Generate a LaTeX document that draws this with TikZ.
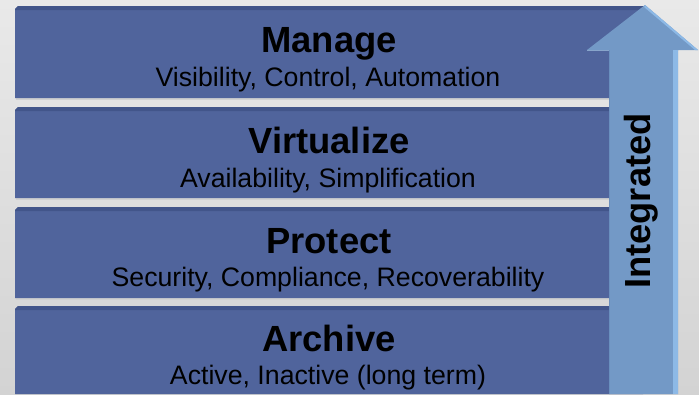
\documentclass[tikz,border=0pt]{standalone}
\usepackage{fontspec}
\setmainfont{Liberation Sans}
\definecolor{bgtop}{HTML}{E9E9E9}
\definecolor{bgbot}{HTML}{D3D3D3}
\definecolor{barc}{HTML}{50649C}
\definecolor{bartop}{HTML}{42558A}
\definecolor{arrc}{HTML}{7399C6}
\definecolor{arrlight}{HTML}{8DB9E6}
\definecolor{arrdark}{HTML}{6A8FBE}
\tikzset{
  titletext/.style={anchor=base, inner sep=0pt, font=\fontsize{36.4}{42}\selectfont\bfseries},
  subtext/.style={anchor=base, inner sep=0pt, font=\fontsize{26.7}{30}\selectfont},
  arrtext/.style={anchor=base, inner sep=0pt, rotate=90, font=\fontsize{36.3}{42}\selectfont\bfseries}
}
\begin{document}
\begin{tikzpicture}[x=1pt,y=-1pt]
\useasboundingbox (0,0) rectangle (699,394);
\shade[top color=bgtop, bottom color=bgbot] (0,0) rectangle (699,394);
% bars
\foreach \t/\b in {6/98,107/198,207/298,306/394}{
  \fill[black!18] (16,\b) rectangle (643,\b+2);
  \fill[barc] (15,\t+3) -- (18,\t) -- (643,\t) -- (643,\b) -- (15,\b) -- cycle;
  \fill[bartop] (15,\t+3) -- (18,\t) -- (643,\t) -- (643,\t+4) -- (15,\t+4) -- cycle;
}
% texts
\node[titletext] (t1) at (329,52) {Manage};
\node[subtext] (s1) at (328,86.5) {Visibility, Control, Automation};
\node[titletext] (t2) at (329,153) {Virtualize};
\node[subtext] (s2) at (328,187) {Availability, Simplification};
\node[titletext] (t3) at (329,253) {Protect};
\node[subtext] (s3) at (328,286) {Security, Compliance, Recoverability};
\node[titletext] (t4) at (329,351) {Archive};
\node[subtext] (s4) at (328,384) {Active, Inactive (long term)};
% arrow
\fill[arrc] (609,394) -- (609,50) -- (587,50) -- (645,5) -- (698,50) -- (678,50) -- (678,394) -- cycle;
\fill[arrlight] (673,50) -- (678,50) -- (678,394) -- (673,394) -- cycle;
\fill[arrlight] (645,5) -- (698,50) -- (695,50) -- (644,7) -- cycle;
\draw[arrdark, line width=1pt] (609.5,50) -- (609.5,394);
\draw[arrdark!80!white, line width=1pt] (587,50) -- (609,50);
\node[arrtext] (it) at (650.5,201) {Integrated};
\end{tikzpicture}
\end{document}
